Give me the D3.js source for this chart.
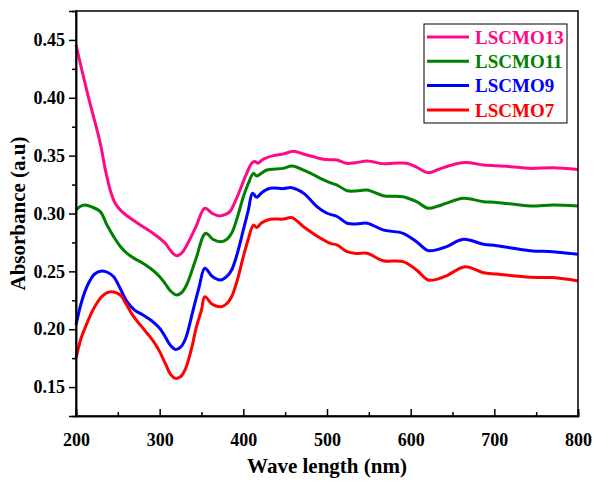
<!DOCTYPE html>
<html>
<head>
<meta charset="utf-8">
<script src="https://cdn.jsdelivr.net/npm/d3@7"></script>
<style>
  html, body { margin: 0; padding: 0; background: #fff; }
  svg text { font-family: "Liberation Serif", "Times New Roman", serif; font-weight: bold; }
</style>
</head>
<body>
<svg id="chart" width="593" height="482"></svg>
<script>
// UV-Vis absorbance spectra, wavelength (nm) vs absorbance (a.u)
const seriesNames = ["LSCMO13", "LSCMO11", "LSCMO9", "LSCMO7"];
const seriesColors = ["#FF0A84", "#008000", "#0000FF", "#FF0000"];

const lscmo13 = [
  [200, 0.4456], [214, 0.403], [229, 0.3607], [235, 0.338], [241, 0.320], [246, 0.310],
  [253, 0.303], [260, 0.2985], [268, 0.2944], [280, 0.2886], [292, 0.283], [300, 0.2786],
  [307, 0.274], [313, 0.268], [320, 0.2635], [326, 0.2655], [332, 0.272], [343, 0.288],
  [354, 0.3045], [363, 0.300], [372, 0.2979], [378, 0.299], [384, 0.3016], [390, 0.310],
  [396, 0.3203], [403, 0.333], [410, 0.3434], [414, 0.345], [417, 0.3435], [424, 0.347],
  [436, 0.350], [448, 0.3514], [460, 0.3538], [472, 0.3514], [484, 0.349], [496, 0.3468],
  [506, 0.3464], [512, 0.3462], [523, 0.3434], [535, 0.344], [548, 0.3454], [567, 0.343],
  [580, 0.3434], [595, 0.3434], [607, 0.340], [621, 0.3353], [633, 0.338], [647, 0.3415],
  [665, 0.344], [687, 0.342], [703, 0.3413], [720, 0.3405], [743, 0.339], [770, 0.3396],
  [800, 0.338]
];
const lscmo11 = [
  [200, 0.303], [206, 0.3065], [211, 0.3074], [218, 0.306], [229, 0.3016], [237, 0.290],
  [245, 0.280], [253, 0.2715], [261, 0.2656], [270, 0.261], [280, 0.257], [290, 0.252],
  [300, 0.2454], [307, 0.239], [313, 0.233], [320, 0.2296], [326, 0.2315], [332, 0.238],
  [343, 0.260], [355, 0.2829], [364, 0.2775], [373, 0.2756], [380, 0.2775], [386, 0.2829],
  [393, 0.297], [400, 0.3145], [406, 0.326], [412, 0.3347], [416, 0.3324], [422, 0.335],
  [428, 0.3376], [448, 0.339], [458, 0.341], [476, 0.3361], [496, 0.329], [506, 0.326],
  [512, 0.3246], [524, 0.3197], [535, 0.3195], [548, 0.3203], [567, 0.3154], [591, 0.3145],
  [607, 0.3102], [621, 0.3045], [633, 0.3065], [643, 0.309], [663, 0.3132], [687, 0.3102],
  [703, 0.3096], [743, 0.3065], [770, 0.3074], [800, 0.3065]
];
const lscmo9 = [
  [200, 0.2036], [206, 0.222], [213, 0.2367], [222, 0.2475], [231, 0.2503], [238, 0.249],
  [245, 0.2454], [253, 0.235], [261, 0.2238], [270, 0.2165], [280, 0.2123], [290, 0.2075],
  [300, 0.2008], [307, 0.193], [313, 0.186], [319, 0.1825], [325, 0.1845], [331, 0.192],
  [340, 0.2166], [347, 0.236], [354, 0.2527], [363, 0.2455], [373, 0.2425], [380, 0.2455],
  [386, 0.2512], [393, 0.266], [400, 0.2858], [406, 0.303], [411, 0.3175], [416, 0.314],
  [422, 0.318], [432, 0.3218], [448, 0.3215], [458, 0.3223], [472, 0.3175], [488, 0.306],
  [500, 0.3002], [512, 0.2974], [524, 0.2916], [535, 0.291], [548, 0.2916], [567, 0.2858],
  [591, 0.2829], [607, 0.2756], [621, 0.2679], [633, 0.269], [643, 0.2713], [663, 0.2777],
  [687, 0.2734], [703, 0.2722], [743, 0.2679], [770, 0.267], [800, 0.2648]
];
const lscmo7 = [
  [200, 0.1749], [206, 0.192], [213, 0.2051], [222, 0.219], [232, 0.229], [241, 0.2324],
  [253, 0.2296], [260, 0.2215], [269, 0.2108], [277, 0.2035], [285, 0.1965], [293, 0.189],
  [300, 0.1806], [307, 0.170], [313, 0.161], [319, 0.1575], [325, 0.159], [331, 0.166],
  [338, 0.183], [344, 0.2022], [350, 0.2166], [354, 0.2281], [363, 0.2215], [374, 0.2195],
  [380, 0.222], [386, 0.2281], [393, 0.243], [400, 0.2627], [406, 0.278], [412, 0.290],
  [416, 0.288], [422, 0.292], [432, 0.295], [448, 0.2952], [458, 0.2964], [472, 0.2886],
  [488, 0.2806], [504, 0.2742], [512, 0.2728], [524, 0.267], [535, 0.2655], [548, 0.2656],
  [567, 0.2592], [591, 0.2584], [607, 0.2512], [621, 0.2425], [633, 0.2435], [643, 0.2462],
  [665, 0.254], [687, 0.2488], [703, 0.2477], [743, 0.2449], [770, 0.2446], [800, 0.2417]
];
const seriesValues = [lscmo13, lscmo11, lscmo9, lscmo7];

const xMajorTicks = [200, 300, 400, 500, 600, 700, 800];
const xMinorTicks = [250, 350, 450, 550, 650, 750];
const yMajorTicks = [0.15, 0.20, 0.25, 0.30, 0.35, 0.40, 0.45];
const yMinorTicks = [0.175, 0.225, 0.275, 0.325, 0.375, 0.425];

const svg = d3.select("#chart");
const plot = { left: 76, right: 578, top: 11, bottom: 416 };

const x = d3.scaleLinear().domain([200, 800]).range([plot.left, plot.right]);
const y = d3.scaleLinear().domain([0.125, 0.475]).range([plot.bottom, plot.top]);

// spectra
const line = d3.line()
  .x(d => x(d[0]))
  .y(d => y(d[1]))
  .curve(d3.curveCatmullRom.alpha(0.5));

svg.append("g").selectAll("path")
  .data(seriesValues)
  .join("path")
  .attr("d", line)
  .attr("fill", "none")
  .attr("stroke", (d, i) => seriesColors[i])
  .attr("stroke-width", 3)
  .attr("stroke-linejoin", "round");

// frame
svg.append("rect")
  .attr("x", plot.left).attr("y", plot.top)
  .attr("width", plot.right - plot.left).attr("height", plot.bottom - plot.top)
  .attr("fill", "none").attr("stroke", "#000").attr("stroke-width", 1.5);

// x axis: ticks pointing inward
const xAxis = svg.append("g").attr("transform", `translate(0,${plot.bottom})`);
xAxis.call(d3.axisBottom(x).tickValues(xMajorTicks).tickSize(-7).tickFormat(d3.format("d")));
xAxis.append("g").call(d3.axisBottom(x).tickValues(xMinorTicks).tickSize(-4).tickFormat(""));
xAxis.selectAll(".domain").attr("stroke-width", 1.5);
xAxis.selectAll(".tick line").attr("stroke-width", 1.5);
xAxis.selectAll(".tick text")
  .attr("y", 17).attr("dy", "0.71em")
  .style("font-size", "18px").attr("fill", "#000");

// y axis: ticks pointing outward
const yAxis = svg.append("g").attr("transform", `translate(${plot.left},0)`);
yAxis.call(d3.axisLeft(y).tickValues(yMajorTicks).tickSize(7).tickFormat(d3.format(".2f")));
yAxis.append("g").call(d3.axisLeft(y).tickValues(yMinorTicks).tickSize(4).tickFormat(""));
yAxis.selectAll(".domain").attr("stroke-width", 1.5);
yAxis.selectAll(".tick line").attr("stroke-width", 1.5);
yAxis.selectAll(".tick text")
  .attr("x", -11)
  .style("font-size", "18px").attr("fill", "#000");

// axis titles
svg.append("text")
  .attr("x", (plot.left + plot.right) / 2).attr("y", 473)
  .attr("text-anchor", "middle")
  .style("font-size", "21px")
  .text("Wave length (nm)");

svg.append("text")
  .attr("transform", `translate(25,${(plot.top + plot.bottom) / 2}) rotate(-90)`)
  .attr("text-anchor", "middle")
  .style("font-size", "21px")
  .text("Absorbance (a.u)");

// legend
const legend = svg.append("g");
legend.append("rect")
  .attr("x", 424).attr("y", 24).attr("width", 143).attr("height", 99)
  .attr("fill", "#fff").attr("stroke", "#000").attr("stroke-width", 1);
const rows = legend.selectAll("g.row")
  .data(seriesNames)
  .join("g")
  .attr("class", "row")
  .attr("transform", (d, i) => `translate(0,${37 + i * 24.3})`);
rows.append("line")
  .attr("x1", 427).attr("x2", 469)
  .attr("stroke", (d, i) => seriesColors[i])
  .attr("stroke-width", 3);
rows.append("text")
  .attr("x", 475).attr("dy", "0.35em")
  .style("font-size", "19px")
  .attr("fill", (d, i) => seriesColors[i])
  .text(d => d);
</script>
</body>
</html>
